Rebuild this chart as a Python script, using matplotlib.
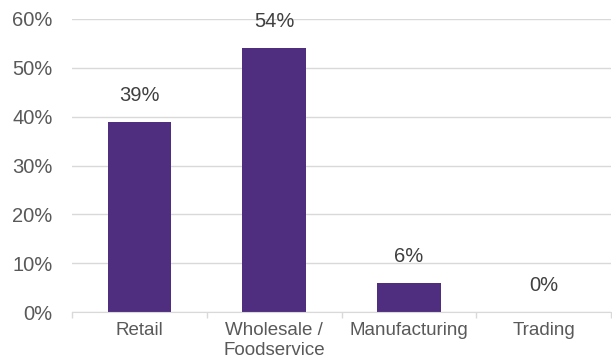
import numpy as np
import matplotlib.pyplot as plt
from matplotlib.ticker import FixedLocator, PercentFormatter

plt.rcParams["font.family"] = ["Liberation Sans", "DejaVu Sans"]

categories = ["Retail", "Wholesale /\nFoodservice", "Manufacturing", "Trading"]
values = [39, 54, 6, 0]

bar_color = "#4f2d7f"
grid_color = "#d9d9d9"

fig = plt.figure(figsize=(6.12, 3.57), dpi=100)
ax = fig.add_axes([72 / 612, 1 - 312 / 357, 539 / 612, 293 / 357])

x = np.arange(len(categories))
ax.bar(x, values, width=0.47, color=bar_color, zorder=3)

# data labels sit a fixed gap above each bar
for xi, v in zip(x, values):
    ax.text(xi, v + 5.4, f"{v}%", ha="center", va="center",
            fontsize=14.5, color="#404040")

ax.set_xlim(-0.5, len(categories) - 0.5)
ax.set_ylim(0, 60)
ax.set_yticks(np.arange(0, 61, 10))
ax.yaxis.set_major_formatter(PercentFormatter(decimals=0))
ax.grid(axis="y", color=grid_color, linewidth=1, zorder=0)

ax.set_xticks(x)
ax.set_xticklabels(categories)
ax.xaxis.set_minor_locator(FixedLocator(np.arange(-0.5, len(categories), 1)))
ax.tick_params(axis="x", which="major", length=0, pad=7.5, labelsize=13.5, labelcolor="#595959")
ax.tick_params(axis="x", which="minor", length=4.5, color=grid_color, width=1)
ax.tick_params(axis="y", length=0, pad=14, labelsize=14.5, labelcolor="#595959")

for side in ["top", "right", "left"]:
    ax.spines[side].set_visible(False)
ax.spines["bottom"].set_color(grid_color)
ax.spines["bottom"].set_zorder(4)

for lbl in ax.get_xticklabels():
    lbl.set_linespacing(1.2)

fig.savefig("out.png", dpi=100)
